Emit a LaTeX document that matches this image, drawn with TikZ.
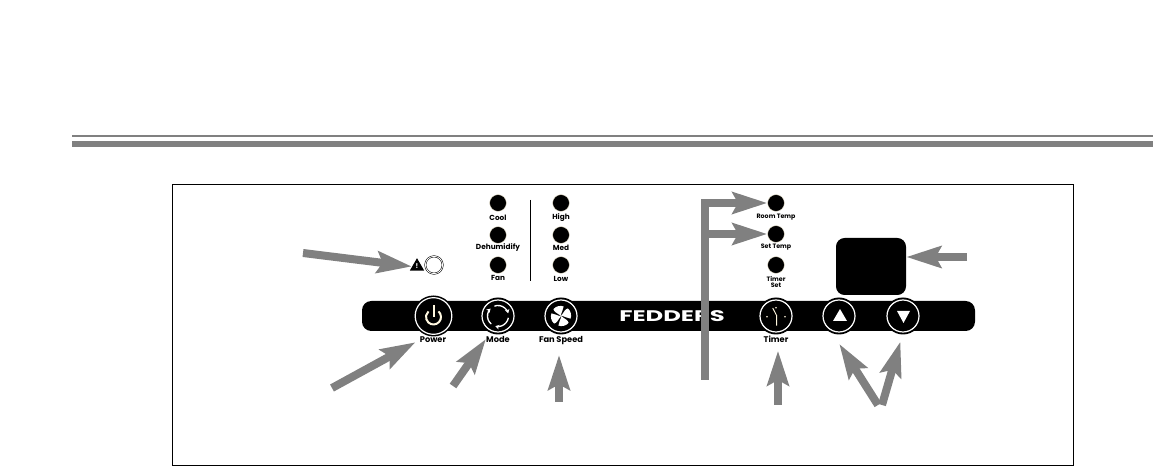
\documentclass[tikz,border=0pt]{standalone}
\usepackage{fontspec}
\setmainfont{Poppins}
\usepackage{tikz}
\usetikzlibrary{arrows.meta,shapes.geometric}
\definecolor{ink}{HTML}{808080}
\definecolor{cream}{HTML}{FFF8E0}

\begin{document}
\begin{tikzpicture}[
  x=0.75pt, y=-0.75pt,
  led/.style={circle, fill=black, draw=cream, line width=0.3pt, minimum size=12.6pt, inner sep=0pt},
  btn/.style={circle, fill=black, draw=white, line width=0.9pt, minimum size=24pt, inner sep=0pt},
  lbl/.style={font=\fontsize{5.5}{5.6}\selectfont\bfseries, align=center, inner sep=0pt},
  lblb/.style={font=\fontsize{6.2}{7}\selectfont\bfseries, align=center, inner sep=0pt},
  lbls/.style={font=\fontsize{4.75}{5.2}\selectfont\bfseries, align=center, inner sep=0pt},
  arr/.style={-{Stealth[length=26pt, width=16pt, inset=4pt]}, draw=ink, line width=6pt, line join=miter}]
\useasboundingbox (0,0) rectangle (1153,466);
% rules and frame
\fill[ink] (72,135) rectangle (1153,137);
\fill[ink] (72,141) rectangle (1153,147);
\draw[black, line width=0.75pt] (172.5,185) rectangle (1073,465);
% panel
\node[fill=black, rounded corners=7pt, minimum width=459.75pt, minimum height=22.5pt, inner sep=0pt] (bar) at (668.5,316) {};
\node[fill=black, rounded corners=6.5pt, minimum width=52.5pt, minimum height=42.75pt, inner sep=0pt] (display) at (871,266.5) {};
\draw[black, line width=0.75pt] (530,200) -- (530,281);
% status lights
\node[led] (cool) at (498,203) {};
\node[led] (dehum) at (498,235) {};
\node[led] (fanled) at (498,265) {};
\node[led] (high) at (561,203) {};
\node[led] (med) at (561,235) {};
\node[led] (low) at (561,265) {};
\node[led] (room) at (776,203) {};
\node[led] (settemp) at (776,234) {};
\node[led] (timerset) at (776,265) {};
\node[lbl] (lcool) at (498,218) {Cool};
\node[lbl] (ldehum) at (498,248) {Dehumidify};
\node[lbl] (lfan) at (498,278) {Fan};
\node[lbl] (lhigh) at (561,218) {High};
\node[lbl] (lmed) at (561,248) {Med};
\node[lbl] (llow) at (561,279) {Low};
\node[lbls] (lroom) at (776,217) {Room Temp};
\node[lbls] (lset) at (776,247) {Set Temp};
\node[lbls] (ltimerset) at (776,282) {Timer\\Set};
% warning light
\node[regular polygon, regular polygon sides=3, fill=black, minimum size=12.5pt, inner sep=0pt, text=white, font=\fontsize{5}{5}\selectfont\bfseries] (warn) at (417,266.5) {!};
\node[circle, draw=black, double=white, double distance=0.6pt, line width=0.4pt, fill=white, minimum size=13pt, inner sep=0pt] (lamp) at (434,265) {};
% buttons
\fill[black] (433.5,316) circle (20.5);
\foreach \x in {498,561,776,839,903} \fill[black] (\x,316) circle (18.5);
\node[btn, minimum size=27.5pt] (power) at (433.5,316) {};
\node[btn] (mode) at (498,316) {};
\node[btn] (fan) at (561,316) {};
\node[btn] (timer) at (776,316) {};
\node[btn] (up) at (839,316) {};
\node[btn] (down) at (903,316) {};
% icons
\draw[cream, line width=1.5pt] (438.5,311.4) arc[start angle=-48, end angle=228, radius=7.5];
\draw[cream, line width=1.5pt] (433.5,305) -- (433.5,317);
\foreach \a in {10,130,250}
  \draw[white, line width=1pt, -{Stealth[length=3pt, width=3.5pt]}] (\a:10.5) ++(498,316) arc[start angle=\a, end angle=\a+95, radius=10.5];
\foreach \a in {15,105,195,285}
  \fill[white, rotate around={\a:(561,316)}] (561,316) .. controls (558,312) and (555,310) .. (555.5,307.5) .. controls (558,305) and (564,305.5) .. (566,307.5) .. controls (565,311) and (562,312) .. (561,316);
\draw[cream, line width=0.7pt, line join=round] (772.7,308) -- (776.7,315.7) -- (776.7,325.7);
\foreach \p in {(767,316.7),(785,316.7),(776,307.7)} \fill[cream] \p circle (0.9);
\fill[white] (840,309) -- (847,321) -- (833,321) -- cycle;
\fill[white] (903.5,323) -- (897,311) -- (910,311) -- cycle;
\node[text=white, font=\fontsize{11.5}{11}\selectfont\bfseries, inner sep=0pt, xscale=1.58] (brand) at (672,316) {FEDDERS};
\node[lblb] (lpower) at (433,340) {Power};
\node[lblb] (lmode) at (498,339) {Mode};
\node[lblb] (lfanspeed) at (561,340.5) {Fan Speed};
\node[lblb] (ltimer) at (776,339) {Timer};
% arrows
\coordinate (twarn) at (303,253);
\coordinate (tpower) at (332,388);
\coordinate (tmode) at (453,386);
\coordinate (tfan) at (559,402);
\coordinate (ttemp) at (705,380);
\coordinate (ttimer) at (778,405);
\coordinate (tup) at (878,405);
\coordinate (tdown) at (882,405);
\coordinate (tdisp) at (967,257);
\draw[arr] (twarn) -- (warn.west);
\draw[arr, shorten >=3.5pt] (tpower) -- (lpower.west);
\draw[arr] (tmode) -- (lmode.west);
\draw[arr, shorten >=7.5pt] (tfan) -- (tfan |- lfanspeed.south);
\draw[arr] (ttemp) |- (room.west);
\draw[arr] (ttemp |- settemp.west) -- (settemp.west);
\draw[arr, shorten >=6pt] (ttimer) -- (ttimer |- ltimer.south);
\draw[arr, shorten >=12pt] (tup) -- (up.240);
\draw[arr, shorten >=7pt] (tdown) -- (down.south);
\draw[arr] (tdisp) -- (display.east |- tdisp);
\end{tikzpicture}
\end{document}
